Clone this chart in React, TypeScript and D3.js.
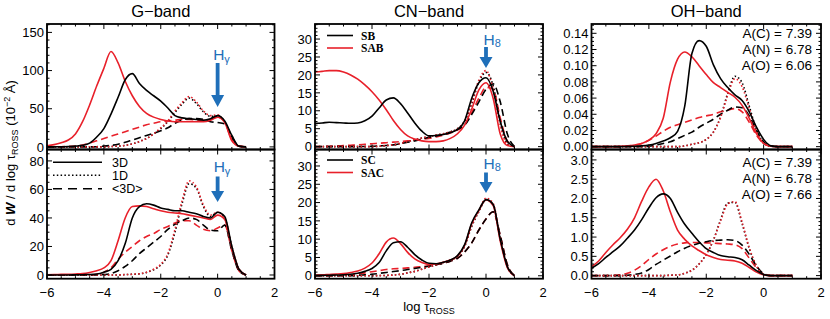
import React from "react";
import * as d3 from "d3";

// log tau_ROSS grid
const LOG_TAU = [-6, -5.75, -5.5, -5.25, -5, -4.75, -4.5, -4.25, -4, -3.75, -3.5, -3.25, -3, -2.75, -2.5, -2.25, -2, -1.75, -1.5, -1.25, -1, -0.75, -0.5, -0.25, 0, 0.25, 0.5, 0.75, 1];

// ---- G-band, top (SB black / SAB red) ----
const G_TOP_BLACK_3D = [0, 0, 0.2, 0.4, 1, 2, 5, 13, 24, 43, 65, 88, 96, 83, 74, 67, 60, 51, 41, 38, 37, 36, 35, 37, 41, 34, 15, 1, 0];
const G_TOP_RED_3D = [1.5, 3, 5.5, 9, 17, 33, 55, 80, 103, 125, 110, 86, 67, 53, 44, 39, 36, 34, 33, 33, 33, 33, 33, 35, 39, 32, 8, 1, 0];
const G_TOP_BLACK_1D = [0, 0, 0, 0, 0, 0, 0, 0, 0, 0.5, 1, 2, 4, 7, 11, 17, 24, 33, 45, 56, 64, 57, 46, 40, 40, 33, 13, 1, 0];
const G_TOP_RED_1D = [0, 0, 0, 0, 0, 0, 0, 0, 0, 0.5, 1, 2, 4, 7, 11, 17, 25, 34, 47, 58, 66, 59, 47, 41, 42, 32, 10, 1, 0];
const G_TOP_RED_AVG = [0, 0.1, 0.3, 0.6, 1, 2.5, 5, 8, 11, 14, 17, 20, 23, 26, 29, 31, 33, 34, 35, 36, 36, 35, 35, 36, 39, 33, 10, 1, 0];
const G_TOP_BLACK_AVG = [0, 0, 0, 0, 0, 0, 0, 0.3, 1, 2, 3.5, 6, 9, 12, 15, 18, 21, 25, 31, 35, 37, 37, 36, 33, 32, 30, 13, 1, 0];

// ---- G-band, bottom (SC black / SAC red) ----
const G_BOT_BLACK_3D = [0, 0, 0, 0, 0.1, 0.2, 0.3, 0.7, 2, 4, 10, 22, 40, 48, 50, 49, 47, 46, 45, 45, 44, 43, 41, 40, 44, 41, 20, 4, 0];
const G_BOT_RED_3D = [0.2, 0.3, 0.4, 0.5, 0.7, 1, 1.8, 3, 5, 10, 24, 40, 48, 48.5, 48, 46.5, 45, 44, 43.5, 43, 42, 41, 40, 39, 42, 39, 19, 4, 0];
const G_BOT_BLACK_1D = [0, 0, 0, 0, 0, 0, 0, 0, 0, 0, 0, 0.3, 0.5, 0.8, 1.8, 3.7, 7, 14, 30, 50, 64, 61, 48, 41, 44, 40, 20, 4, 0];
const G_BOT_RED_1D = [0, 0, 0, 0, 0, 0, 0, 0, 0, 0, 0, 0.3, 0.5, 0.9, 2, 4, 7.5, 15, 32, 52, 66, 62, 49, 42, 44, 40, 19, 4, 0];
const G_BOT_RED_AVG = [0, 0, 0, 0, 0, 0, 0, 0.5, 2, 5, 11, 16, 20, 24, 27, 29, 32, 34, 36.5, 38, 38, 35, 32, 31, 33, 35, 17, 3, 0];
const G_BOT_BLACK_AVG = [0, 0, 0, 0, 0, 0, 0, 0, 0.3, 1, 3, 6, 10, 15, 19, 23, 27, 32, 35.5, 38, 40, 39, 35, 31.5, 31, 35, 17, 3, 0];

// ---- CN-band, top ----
const CN_TOP_BLACK_3D = [6.5, 6.6, 6.8, 6.7, 6.6, 6.5, 6.6, 7.2, 8.5, 10.8, 13, 13.6, 12, 9.4, 6.6, 4.3, 3, 3.1, 3.4, 3.9, 4.8, 7.2, 13.5, 17.8, 19.2, 15.5, 7, 1.5, 0];
const CN_TOP_RED_3D = [20.8, 21, 21.2, 21.2, 20.8, 20, 18.8, 17.2, 15.3, 13, 10.3, 7.3, 4.8, 3, 2.1, 1.6, 1.4, 1.4, 1.6, 2.3, 3.6, 6, 10.5, 15.8, 17.8, 13.5, 3.5, 0.3, 0];
const CN_TOP_BLACK_1D = [0, 0, 0, 0, 0, 0, 0, 0, 0, 0.1, 0.3, 0.5, 0.9, 1.4, 2, 2.4, 2.8, 3.2, 3.6, 4.1, 5, 7, 12, 18, 20.7, 17, 7, 0.8, 0];
const CN_TOP_RED_1D = [0, 0, 0, 0, 0, 0, 0, 0, 0, 0.1, 0.3, 0.5, 0.9, 1.4, 2, 2.4, 2.8, 3.2, 3.6, 4.1, 5, 7.2, 12.5, 18.5, 21.2, 16, 6, 0.6, 0];
const CN_TOP_BLACK_AVG = [0, 0, 0, 0, 0, 0, 0, 0.05, 0.1, 0.2, 0.3, 0.5, 0.8, 1.2, 1.6, 2.1, 2.6, 3, 3.5, 4.1, 4.8, 6, 9, 12.5, 16, 17.5, 12.5, 3.5, 0];
const CN_TOP_RED_AVG = [0, 0.05, 0.1, 0.2, 0.3, 0.4, 0.5, 0.65, 0.8, 0.95, 1.1, 1.25, 1.4, 1.6, 1.8, 2, 2.3, 2.7, 3.2, 3.8, 4.6, 6, 9.5, 13.5, 16.5, 16, 8, 1.5, 0];

// ---- CN-band, bottom ----
const CN_BOT_BLACK_3D = [0.1, 0.1, 0.15, 0.2, 0.25, 0.4, 0.7, 1.2, 2, 3.6, 6.8, 9, 9.3, 7.8, 5.8, 4.3, 3.4, 3.3, 3.7, 4.3, 5.5, 8.5, 14.5, 18, 20.8, 19.5, 10, 2.5, 0];
const CN_BOT_RED_3D = [0.2, 0.25, 0.35, 0.45, 0.6, 0.9, 1.3, 2.1, 3.5, 6, 9.2, 10.3, 8.8, 6.4, 4.6, 3.6, 3.1, 3.2, 3.7, 4.3, 5.4, 8.3, 14.2, 17.8, 20.7, 19.2, 9.5, 2.2, 0];
const CN_BOT_BLACK_1D = [0, 0, 0, 0, 0, 0, 0, 0, 0, 0.05, 0.1, 0.2, 0.4, 0.8, 1.2, 1.8, 2.4, 3, 3.6, 4.3, 5.3, 8, 13.5, 17.5, 20.8, 19.5, 10, 2.5, 0];
const CN_BOT_RED_1D = [0, 0, 0, 0, 0, 0, 0, 0, 0, 0.05, 0.1, 0.2, 0.4, 0.8, 1.2, 1.8, 2.4, 3, 3.6, 4.3, 5.3, 8.2, 13.8, 17.8, 21.2, 19.8, 10.2, 2.5, 0];
const CN_BOT_RED_AVG = [0, 0, 0, 0, 0.1, 0.2, 0.4, 0.8, 1.1, 1.4, 1.7, 1.9, 2, 2.15, 2.3, 2.5, 2.7, 3, 3.4, 4, 4.8, 6.5, 9, 12.5, 15.5, 17.5, 11, 3, 0];
const CN_BOT_BLACK_AVG = [0, 0, 0, 0, 0, 0, 0.1, 0.25, 0.4, 0.65, 0.9, 1.15, 1.4, 1.7, 2, 2.3, 2.6, 3, 3.4, 4, 4.8, 6.5, 9, 12.5, 15.5, 17.5, 11, 3, 0];

// ---- OH-band, top ----
const OH_TOP_BLACK_3D = [0, 0, 0, 0, 0, 0.0003, 0.0005, 0.001, 0.002, 0.004, 0.007, 0.011, 0.019, 0.05, 0.115, 0.131, 0.124, 0.101, 0.084, 0.073, 0.064, 0.057, 0.043, 0.024, 0.009, 0.001, 0, 0, 0];
const OH_TOP_RED_3D = [0, 0, 0, 0, 0.0005, 0.001, 0.002, 0.004, 0.008, 0.016, 0.035, 0.08, 0.108, 0.117, 0.111, 0.1, 0.089, 0.079, 0.073, 0.067, 0.061, 0.051, 0.035, 0.016, 0.004, 0.0005, 0, 0, 0];
const OH_TOP_BLACK_1D = [0, 0, 0, 0, 0, 0, 0, 0, 0, 0, 0, 0, 0, 0.001, 0.003, 0.005, 0.009, 0.018, 0.037, 0.066, 0.087, 0.079, 0.05, 0.021, 0.005, 0.0005, 0, 0, 0];
const OH_TOP_RED_1D = [0, 0, 0, 0, 0, 0, 0, 0, 0, 0, 0, 0, 0, 0.001, 0.003, 0.005, 0.009, 0.018, 0.036, 0.064, 0.084, 0.074, 0.047, 0.019, 0.004, 0.0005, 0, 0, 0];
const OH_TOP_RED_AVG = [0, 0, 0, 0, 0, 0.0005, 0.002, 0.004, 0.008, 0.013, 0.019, 0.024, 0.027, 0.03, 0.033, 0.036, 0.038, 0.04, 0.043, 0.045, 0.047, 0.043, 0.03, 0.014, 0.004, 0.0005, 0, 0, 0];
const OH_TOP_BLACK_AVG = [0, 0, 0, 0, 0, 0, 0, 0, 0.0005, 0.002, 0.004, 0.006, 0.01, 0.014, 0.018, 0.024, 0.029, 0.034, 0.04, 0.045, 0.049, 0.048, 0.038, 0.02, 0.006, 0.001, 0, 0, 0];

// ---- OH-band, bottom ----
const OH_BOT_BLACK_3D = [0.19, 0.31, 0.47, 0.62, 0.77, 0.97, 1.18, 1.45, 1.76, 2.02, 2.12, 2.0, 1.64, 1.33, 1.1, 0.88, 0.7, 0.6, 0.52, 0.49, 0.47, 0.41, 0.27, 0.13, 0.03, 0, 0, 0, 0];
const OH_BOT_RED_3D = [0.23, 0.38, 0.6, 0.8, 0.98, 1.2, 1.5, 1.93, 2.3, 2.5, 2.2, 1.65, 1.18, 0.94, 0.77, 0.65, 0.54, 0.47, 0.42, 0.4, 0.38, 0.32, 0.21, 0.09, 0.02, 0, 0, 0, 0];
const OH_BOT_BLACK_1D = [0, 0, 0, 0, 0, 0, 0, 0, 0, 0, 0, 0.01, 0.02, 0.06, 0.14, 0.3, 0.55, 0.92, 1.45, 1.88, 1.9, 1.35, 0.7, 0.25, 0.03, 0, 0, 0, 0];
const OH_BOT_RED_1D = [0, 0, 0, 0, 0, 0, 0, 0, 0, 0, 0, 0.01, 0.02, 0.06, 0.14, 0.3, 0.55, 0.92, 1.42, 1.86, 1.92, 1.38, 0.72, 0.26, 0.03, 0, 0, 0, 0];
const OH_BOT_RED_AVG = [0, 0, 0, 0.005, 0.02, 0.06, 0.14, 0.26, 0.42, 0.56, 0.67, 0.76, 0.82, 0.85, 0.86, 0.86, 0.85, 0.84, 0.83, 0.82, 0.8, 0.7, 0.45, 0.2, 0.04, 0, 0, 0, 0];
const OH_BOT_BLACK_AVG = [0, 0, 0, 0, 0, 0.01, 0.03, 0.07, 0.16, 0.29, 0.4, 0.51, 0.62, 0.71, 0.78, 0.84, 0.88, 0.91, 0.92, 0.93, 0.91, 0.79, 0.55, 0.25, 0.05, 0, 0, 0, 0];

// tick labels
const X_TICKS = [-6, -4, -2, 0, 2];
const G_TOP_TICKS = [0, 50, 100, 150];
const G_BOT_TICKS = [0, 20, 40, 60, 80];
const CN_TICKS = [0, 5, 10, 15, 20, 25, 30];
const OH_TOP_TICKS = [0, 0.02, 0.04, 0.06, 0.08, 0.1, 0.12, 0.14];
const OH_BOT_TICKS = [0, 0.5, 1, 1.5, 2, 2.5, 3];
const TITLES = ["G\u2212band", "CN\u2212band", "OH\u2212band"];
const LEGEND_G = ["3D", "1D", "<3D>"];
const LEGEND_CN_TOP = ["SB", "SAB"];
const LEGEND_CN_BOT = ["SC", "SAC"];
const ABUND_TOP = ["A(C) = 7.39", "A(N) = 6.78", "A(O) = 6.06"];
const ABUND_BOT = ["A(C) = 7.39", "A(N) = 6.78", "A(O) = 7.66"];

const RED = "#e8202a";
const BLUE = "#1f6fb9";
const SANS = "'Liberation Sans', Arial, Helvetica, sans-serif";
const SERIF = "'Liberation Serif', 'Times New Roman', serif";

type Style = "solid" | "dotted" | "dashed";
const DASH: Record<Style, string | undefined> = { solid: undefined, dashed: "7 4", dotted: "1.5 2.3" };

interface SeriesDef { values: number[]; color: string; style: Style }
interface PanelDef {
  col: number; row: number;
  yDomain: [number, number];
  ticks: number[]; minor: number; fmt: (v: number) => string;
  series: SeriesDef[];
}

const COLS = [{ left: 47, right: 274.5 }, { left: 315, right: 543 }, { left: 591.5, right: 821 }];
const ROWS = [{ top: 24, bottom: 149.5 }, { top: 149.5, bottom: 278.7 }];

const mk = (b3: number[], r3: number[], b1: number[], r1: number[], ra: number[], ba: number[]): SeriesDef[] => [
  { values: ra, color: RED, style: "dashed" },
  { values: ba, color: "#000", style: "dashed" },
  { values: b1, color: "#000", style: "dotted" },
  { values: r1, color: RED, style: "dotted" },
  { values: r3, color: RED, style: "solid" },
  { values: b3, color: "#000", style: "solid" },
];

const PANELS: PanelDef[] = [
  { col: 0, row: 0, yDomain: [-3.4, 161], ticks: G_TOP_TICKS, minor: 10, fmt: (v) => String(v),
    series: mk(G_TOP_BLACK_3D, G_TOP_RED_3D, G_TOP_BLACK_1D, G_TOP_RED_1D, G_TOP_RED_AVG, G_TOP_BLACK_AVG) },
  { col: 0, row: 1, yDomain: [-2.6, 88], ticks: G_BOT_TICKS, minor: 5, fmt: (v) => String(v),
    series: mk(G_BOT_BLACK_3D, G_BOT_RED_3D, G_BOT_BLACK_1D, G_BOT_RED_1D, G_BOT_RED_AVG, G_BOT_BLACK_AVG) },
  { col: 1, row: 0, yDomain: [-0.8, 34.2], ticks: CN_TICKS, minor: 1, fmt: (v) => String(v),
    series: mk(CN_TOP_BLACK_3D, CN_TOP_RED_3D, CN_TOP_BLACK_1D, CN_TOP_RED_1D, CN_TOP_RED_AVG, CN_TOP_BLACK_AVG) },
  { col: 1, row: 1, yDomain: [-0.8, 34.5], ticks: CN_TICKS, minor: 1, fmt: (v) => String(v),
    series: mk(CN_BOT_BLACK_3D, CN_BOT_RED_3D, CN_BOT_BLACK_1D, CN_BOT_RED_1D, CN_BOT_RED_AVG, CN_BOT_BLACK_AVG) },
  { col: 2, row: 0, yDomain: [-0.0035, 0.1515], ticks: OH_TOP_TICKS, minor: 0.005, fmt: (v) => v.toFixed(2),
    series: mk(OH_TOP_BLACK_3D, OH_TOP_RED_3D, OH_TOP_BLACK_1D, OH_TOP_RED_1D, OH_TOP_RED_AVG, OH_TOP_BLACK_AVG) },
  { col: 2, row: 1, yDomain: [-0.08, 3.27], ticks: OH_BOT_TICKS, minor: 0.1, fmt: (v) => v.toFixed(1),
    series: mk(OH_BOT_BLACK_3D, OH_BOT_RED_3D, OH_BOT_BLACK_1D, OH_BOT_RED_1D, OH_BOT_RED_AVG, OH_BOT_BLACK_AVG) },
];

function minorTicks(lo: number, hi: number, step: number): number[] {
  const out: number[] = [];
  const start = Math.ceil(lo / step - 1e-9);
  const end = Math.floor(hi / step + 1e-9);
  for (let k = start; k <= end; k++) out.push(+(k * step).toFixed(6));
  return out;
}

function Panel({ p, idx }: { p: PanelDef; idx: number }) {
  const { left, right } = COLS[p.col];
  const { top, bottom } = ROWS[p.row];
  const x = d3.scaleLinear().domain([-6, 2]).range([left, right]);
  const y = d3.scaleLinear().domain(p.yDomain).range([bottom, top]);
  const line = d3.line<number>().x((_, i) => x(LOG_TAU[i])).y((d) => y(d)).curve(d3.curveMonotoneX);
  const xMinor = minorTicks(-6, 2, 0.5);
  const yMinor = minorTicks(p.yDomain[0], p.yDomain[1], p.minor);
  const MAJ = 5, MIN = 2.5;
  const clipId = `clip${idx}`;
  return (
    <g>
      <defs>
        <clipPath id={clipId}><rect x={left} y={top} width={right - left} height={bottom - top} /></clipPath>
      </defs>
      <g clipPath={`url(#${clipId})`}>
        {p.series.map((s, i) => (
          <path key={i} d={line(s.values) || ""} fill="none" stroke={s.color} strokeWidth={1.6}
            strokeDasharray={DASH[s.style]} strokeLinejoin="round" />
        ))}
      </g>
      {xMinor.map((v) => {
        const len = Math.abs(v % 2) < 1e-9 ? MAJ : MIN;
        return (
          <g key={`x${v}`} stroke="#000" strokeWidth={1}>
            <line x1={x(v)} x2={x(v)} y1={bottom} y2={bottom - len} />
            <line x1={x(v)} x2={x(v)} y1={top} y2={top + len} />
          </g>
        );
      })}
      {yMinor.map((v) => {
        const isMaj = p.ticks.some((t) => Math.abs(t - v) < 1e-9);
        const len = isMaj ? MAJ : MIN;
        return (
          <g key={`y${v}`} stroke="#000" strokeWidth={1}>
            <line x1={left} x2={left + len} y1={y(v)} y2={y(v)} />
            <line x1={right} x2={right - len} y1={y(v)} y2={y(v)} />
          </g>
        );
      })}
      <rect x={left} y={top} width={right - left} height={bottom - top} fill="none" stroke="#000" strokeWidth={1.8} />
      {p.ticks.map((v) => (
        <text key={`yl${v}`} x={left - 3} y={y(v)} dy="0.36em" textAnchor="end" fontSize={13} fontFamily={SANS}>{p.fmt(v)}</text>
      ))}
      {p.row === 1 && X_TICKS.map((v) => (
        <text key={`xl${v}`} x={x(v)} y={296.5} textAnchor="middle" fontSize={13} fontFamily={SANS}>
          {v < 0 ? `\u2212${Math.abs(v)}` : String(v)}
        </text>
      ))}
    </g>
  );
}

function Arrow({ cx, top, head, tip }: { cx: number; top: number; head: number; tip: number }) {
  const hw = 6.5, sw = 1.9;
  const d = `M${cx - sw},${top} L${cx + sw},${top} L${cx + sw},${head} L${cx + hw},${head} L${cx},${tip} L${cx - hw},${head} L${cx - sw},${head} Z`;
  return <path d={d} fill={BLUE} />;
}

export default function App() {
  const xG = d3.scaleLinear().domain([-6, 2]).range([COLS[0].left, COLS[0].right]);
  const xCN = d3.scaleLinear().domain([-6, 2]).range([COLS[1].left, COLS[1].right]);
  return (
    <svg width={830} height={319} style={{ position: "absolute", left: 0, top: 0, background: "#fff" }}>
      <rect x={0} y={0} width={830} height={319} fill="#fff" />
      {PANELS.map((p, i) => <Panel key={i} p={p} idx={i} />)}

      {TITLES.map((t, i) => (
        <text key={t} x={(COLS[i].left + COLS[i].right) / 2} y={17.3} textAnchor="middle" fontSize={16.5} fontFamily={SANS}>{t}</text>
      ))}

      {/* y-axis label */}
      <text transform="translate(15,153) rotate(-90)" textAnchor="middle" fontSize={13} fontFamily={SANS}>
        d <tspan fontWeight="bold" fontStyle="italic">W</tspan> / d log τ
        <tspan fontSize={9} dy={3}>ROSS</tspan>
        <tspan dy={-3}> (10</tspan>
        <tspan fontSize={9} dy={-5}>−2</tspan>
        <tspan dy={5}> Å)</tspan>
      </text>

      {/* x-axis label */}
      <text x={(COLS[1].left + COLS[1].right) / 2} y={311} textAnchor="middle" fontSize={13} fontFamily={SANS}>
        log τ<tspan fontSize={9} dy={3}>ROSS</tspan>
      </text>

      {/* G-band legend */}
      {LEGEND_G.map((t, i) => {
        const yy = [162.3, 175.3, 188.8][i];
        const st: Style = (["solid", "dotted", "dashed"] as Style[])[i];
        return (
          <g key={t}>
            <line x1={53} x2={102} y1={yy} y2={yy} stroke="#000" strokeWidth={1.6} strokeDasharray={st === "dashed" ? "9 6" : DASH[st]} />
            <text x={112} y={yy} dy="0.36em" fontSize={12.5} fontFamily={SANS}>{t}</text>
          </g>
        );
      })}

      {/* CN legends */}
      {[LEGEND_CN_TOP, LEGEND_CN_BOT].map((lab, r) =>
        lab.map((t, i) => {
          const yy = r === 0 ? [35.5, 48][i] : [160, 172.5][i];
          return (
            <g key={`${r}${t}`}>
              <line x1={327} x2={353} y1={yy} y2={yy} stroke={i === 0 ? "#000" : RED} strokeWidth={1.6} />
              <text x={361} y={yy} dy="0.35em" fontSize={11.5} fontWeight="bold" fontFamily={SERIF}>{t}</text>
            </g>
          );
        })
      )}

      {/* Hydrogen line markers */}
      <text x={xG(0) - 4.5} y={59.5} fill={BLUE} fontSize={15.5} fontFamily={SANS}>H<tspan fontSize={11} dy={3}>γ</tspan></text>
      <Arrow cx={xG(0)} top={63} head={95} tip={107} />
      <text x={xG(0) - 4} y={171.5} fill={BLUE} fontSize={15.5} fontFamily={SANS}>H<tspan fontSize={11} dy={3}>γ</tspan></text>
      <Arrow cx={xG(0)} top={176.5} head={191} tip={202} />
      <text x={xCN(0) - 2.5} y={44.5} fill={BLUE} fontSize={15.5} fontFamily={SANS}>H<tspan fontSize={11} dy={2.5}>8</tspan></text>
      <Arrow cx={xCN(0)} top={47} head={57} tip={68} />
      <text x={xCN(0) - 2.5} y={168.5} fill={BLUE} fontSize={15.5} fontFamily={SANS}>H<tspan fontSize={11} dy={2.5}>8</tspan></text>
      <Arrow cx={xCN(0)} top={172.5} head={182} tip={193} />

      {/* abundances */}
      {ABUND_TOP.map((t, i) => (
        <text key={`at${i}`} x={812} y={[38, 54, 70][i]} textAnchor="end" fontSize={13.5} fontFamily={SANS}>{t}</text>
      ))}
      {ABUND_BOT.map((t, i) => (
        <text key={`ab${i}`} x={812} y={[166.5, 182.5, 198.5][i]} textAnchor="end" fontSize={13.5} fontFamily={SANS}>{t}</text>
      ))}
    </svg>
  );
}
